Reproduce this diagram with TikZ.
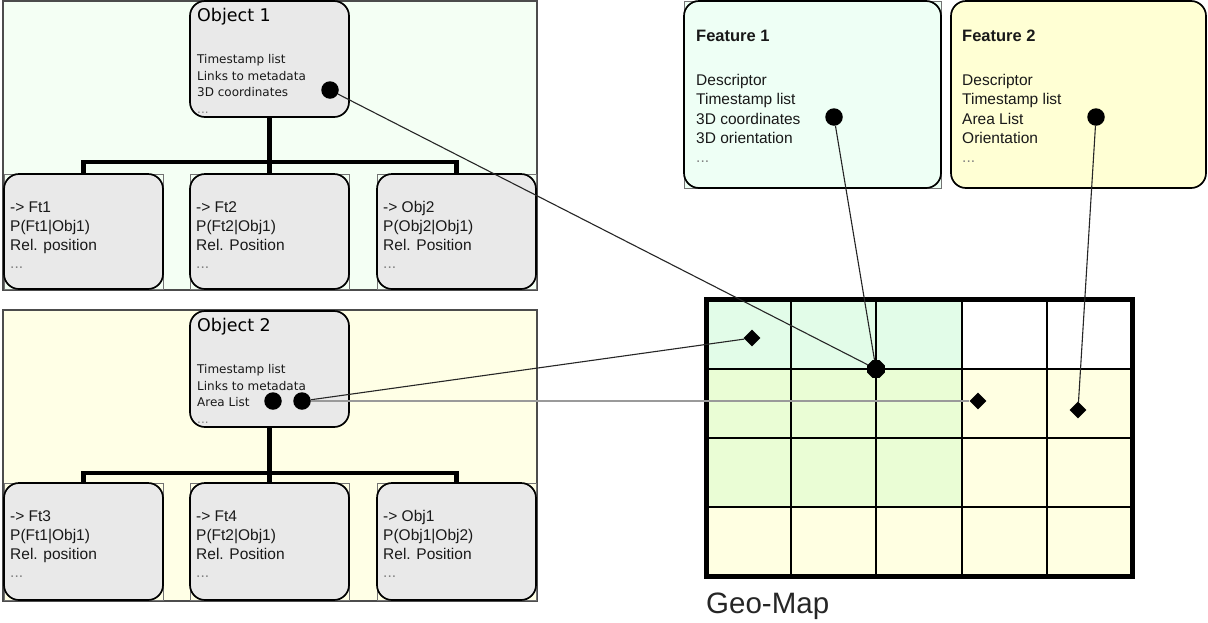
\documentclass[tikz,border=0pt]{standalone}
\usepackage{fontspec}
\setmainfont{Liberation Sans}
\newfontfamily\objfont{DejaVu Sans}
\usetikzlibrary{shapes.geometric}

\definecolor{paneA}{HTML}{F4FFF4}
\definecolor{paneB}{HTML}{FFFFE6}
\definecolor{boxgray}{HTML}{E9E9E9}
\definecolor{featA}{HTML}{EEFFF5}
\definecolor{featB}{HTML}{FFFFD4}
\definecolor{cellG}{HTML}{E2FCE8}
\definecolor{cellGY}{HTML}{EAFDD5}
\definecolor{cellY}{HTML}{FFFFE2}
\definecolor{linkgray}{HTML}{9A9A9A}

\tikzset{
  panel/.style={draw=black!70, line width=1.2pt, anchor=north west, inner sep=0pt, outer sep=0pt},
  rbox/.style={draw=black, line width=1.7pt, rounded corners=15pt, fill=boxgray,
               anchor=north west, inner sep=0pt, outer sep=0pt},
  sqframe/.style={draw=black!55, line width=0.7pt, anchor=north west, inner sep=0pt, outer sep=0pt},
  objtitle/.style={anchor=base west, inner sep=0pt, font=\objfont\fontsize{17.5}{20}\selectfont, text=black},
  objtxt/.style={anchor=base west, inner sep=0pt, font=\objfont\fontsize{12}{14}\selectfont, text=black!90},
  childtxt/.style={anchor=base west, inner sep=0pt, font=\fontsize{15.5}{18}\selectfont, text=black!90},
  feattitle/.style={anchor=base west, inner sep=0pt, font=\bfseries\fontsize{16.5}{19}\selectfont, text=black!90},
  feattxt/.style={anchor=base west, inner sep=0pt, font=\fontsize{15.5}{18}\selectfont, text=black!90},
  dotmark/.style={circle, fill=black, inner sep=0pt, minimum size=17.5pt},
  diamark/.style={diamond, fill=black, inner sep=0pt, minimum width=17pt, minimum height=17pt},
  hubmark/.style={regular polygon, regular polygon sides=8, fill=black, inner sep=0pt, minimum size=19pt},
  treebar/.style={line width=4.2pt, black},
  gridline/.style={line width=1.3pt, black},
  link/.style={line width=1.1pt, black!85},
  graylink/.style={line width=1.8pt, linkgray},
}

\begin{document}
\begin{tikzpicture}[x=1pt,y=-1pt]
\useasboundingbox (0,0) rectangle (1208,622);
\fill[white] (0,0) rectangle (1208,622);

% ---------- object panels ----------
\node[panel, fill=paneA, minimum width=534pt, minimum height=289pt] (pane1) at (3,1) {};
\node[panel, fill=paneB, minimum width=534pt, minimum height=291pt] (pane2) at (3,310) {};

% ---------- Object 1 ----------
\node[rbox, minimum width=159pt, minimum height=116pt] (obj1) at (190,1) {};
\node[objtitle] (obj1t) at ([shift={(7,20)}]obj1.north west) {Object 1};
\node[objtxt] (obj1a) at ([shift={(7,62)}]obj1.north west) {Timestamp list};
\node[objtxt] (obj1b) at ([shift={(7,79)}]obj1.north west) {Links to metadata};
\node[objtxt] (obj1c) at ([shift={(7,95)}]obj1.north west) {3D coordinates};
\node[objtxt, text=black!50] (obj1d) at ([shift={(7,112)}]obj1.north west) {...};

% ---------- Object 2 ----------
\node[rbox, minimum width=159pt, minimum height=116pt] (obj2) at (190,311) {};
\node[objtitle] (obj2t) at ([shift={(7,20)}]obj2.north west) {Object 2};
\node[objtxt] (obj2a) at ([shift={(7,62)}]obj2.north west) {Timestamp list};
\node[objtxt] (obj2b) at ([shift={(7,79)}]obj2.north west) {Links to metadata};
\node[objtxt] (obj2c) at ([shift={(7,95)}]obj2.north west) {Area List};
\node[objtxt, text=black!50] (obj2d) at ([shift={(7,112)}]obj2.north west) {...};

% ---------- child boxes ----------
\foreach \n/\x/\y/\h/\a/\b/\c in {
    c11/4/174/115/{-> Ft1}/{P(Ft1|Obj1)}/{Rel. position},
    c12/190/174/115/{-> Ft2}/{P(Ft2|Obj1)}/{Rel. Position},
    c13/377/174/115/{-> Obj2}/{P(Obj2|Obj1)}/{Rel. Position},
    c21/4/483/117/{-> Ft3}/{P(Ft1|Obj1)}/{Rel. position},
    c22/190/483/117/{-> Ft4}/{P(Ft2|Obj1)}/{Rel. Position},
    c23/377/483/117/{-> Obj1}/{P(Obj1|Obj2)}/{Rel. Position}} {
  \node[sqframe, minimum width=159pt, minimum height=\h pt] (\n f) at (\x,\y) {};
  \node[rbox, minimum width=159pt, minimum height=\h pt] (\n) at (\x,\y) {};
  \node[childtxt] (\n-1) at ([shift={(6,38)}]\n.north west) {\a};
  \node[childtxt] (\n-2) at ([shift={(6,57)}]\n.north west) {\b};
  \node[childtxt] (\n-3) at ([shift={(6,76)}]\n.north west) {\c};
  \node[childtxt, text=black!50] (\n-4) at ([shift={(6,94)}]\n.north west) {...};
}

% ---------- tree connectors ----------
\coordinate (j1) at (obj1.south |- 0,162);
\coordinate (j2) at (obj2.south |- 0,473);
\draw[treebar] (obj1.south) -- (j1);
\draw[treebar] (c11.north) |- (j1) -| (c13.north);
\draw[treebar] (j1) -- (c12.north);
\draw[treebar] (obj2.south) -- (j2);
\draw[treebar] (c21.north) |- (j2) -| (c23.north);
\draw[treebar] (j2) -- (c22.north);

% ---------- feature boxes ----------
\node[sqframe, fill=featA, minimum width=257pt, minimum height=187pt] (f1f) at (684,1) {};
\node[rbox, fill=none, minimum width=257pt, minimum height=187pt] (f1) at (684,1) {};
\node[rbox, fill=featB, minimum width=255pt, minimum height=187pt] (f2) at (951,1) {};

\node[feattitle] (f1t) at ([shift={(12,40)}]f1.north west) {Feature 1};
\node[feattxt] (f1a) at ([shift={(12,84)}]f1.north west) {Descriptor};
\node[feattxt] (f1b) at ([shift={(12,103)}]f1.north west) {Timestamp list};
\node[feattxt] (f1c) at ([shift={(12,123)}]f1.north west) {3D coordinates};
\node[feattxt] (f1d) at ([shift={(12,142)}]f1.north west) {3D orientation};
\node[feattxt, text=black!50] (f1e) at ([shift={(12,161)}]f1.north west) {...};

\node[feattitle] (f2t) at ([shift={(11,40)}]f2.north west) {Feature 2};
\node[feattxt] (f2a) at ([shift={(11,84)}]f2.north west) {Descriptor};
\node[feattxt] (f2b) at ([shift={(11,103)}]f2.north west) {Timestamp list};
\node[feattxt] (f2c) at ([shift={(11,123)}]f2.north west) {Area List};
\node[feattxt] (f2d) at ([shift={(11,142)}]f2.north west) {Orientation};
\node[feattxt, text=black!50] (f2e) at ([shift={(11,161)}]f2.north west) {...};

% ---------- geo map ----------
\fill[cellY]  (706,369) rectangle (1132,576);
\fill[cellG]  (706,299) rectangle (962,369);
\fill[cellGY] (706,369) rectangle (962,507);
\foreach \gx in {791,876,962,1047} \draw[gridline] (\gx,299) -- (\gx,576);
\foreach \gy in {369,438,507} \draw[gridline] (706,\gy) -- (1132,\gy);
\draw[line width=2.6pt] (962,299) -- (962,507) -- (706,507);
\node[draw=black, line width=5pt, anchor=north west, inner sep=0pt, outer sep=0pt,
      minimum width=426pt, minimum height=277pt] (geomap) at (706,299) {};
\node[anchor=base west, inner sep=0pt, font=\fontsize{29.5}{32}\selectfont, text=black!85]
  (geolabel) at ([shift={(0,37)}]geomap.south west) {Geo-Map};

% ---------- markers ----------
\node[dotmark] (o1dot) at (330,90) {};
\node[dotmark] (o2dotA) at (273,401) {};
\node[dotmark] (o2dotB) at (302,401) {};
\node[dotmark] (f1dot) at (834,117) {};
\node[dotmark] (f2dot) at (1096,117) {};
\node[hubmark] (hub) at (876,369) {};
\node[diamark] (d1) at (752,338) {};
\node[diamark] (d2) at (978,401) {};
\node[diamark] (d3) at (1078,410) {};

% ---------- links ----------
\draw[link] (o1dot) -- (hub);
\draw[link] (f1dot) -- (hub);
\draw[link] (f2dot) -- (d3);
\draw[link] (o2dotB) -- (d1);
\draw[graylink] (o2dotB) -- (d2);
\end{tikzpicture}
\end{document}
